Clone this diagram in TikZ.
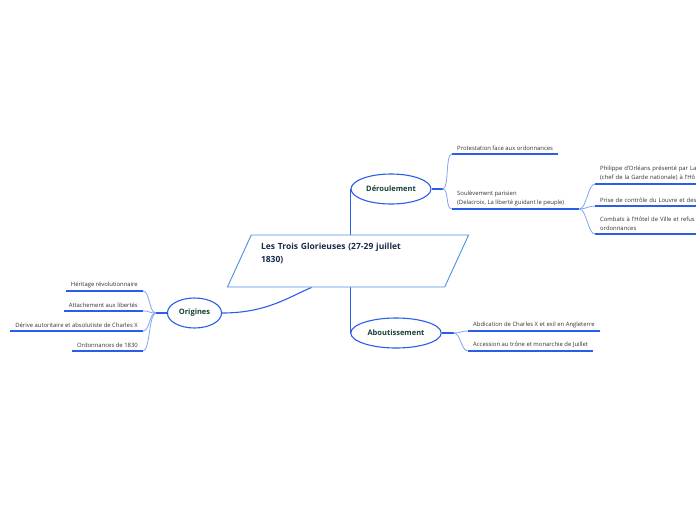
\documentclass[tikz,border=0pt]{standalone}
\usepackage{fontspec}
\setmainfont{Open Sans}
\usetikzlibrary{shapes.geometric,backgrounds}
\definecolor{trunkblue}{RGB}{43,94,232}
\definecolor{twigblue}{RGB}{128,163,243}
\definecolor{frameblue}{RGB}{74,144,226}
\definecolor{titlenavy}{RGB}{27,42,74}
\definecolor{topicgreen}{RGB}{22,64,52}
\definecolor{leafgray}{RGB}{51,51,51}

\begin{document}
\begin{tikzpicture}[x=1pt, y=1pt,
    central/.style={trapezium, trapezium left angle=62, trapezium right angle=118,
                    trapezium stretches=true, draw=frameblue, line width=0.9pt, fill=white,
                    minimum width=242pt, minimum height=52pt, text width=174pt, align=left,
                    font=\fontsize{8.5}{12.5}\selectfont\bfseries, text=titlenavy},
    topic/.style={ellipse, draw=trunkblue, line width=1.1pt, fill=white,
                  minimum height=30pt, inner xsep=3.5pt,
                  font=\fontsize{7.5}{9}\selectfont\bfseries, text=topicgreen},
    leaf/.style={inner xsep=5pt, inner ysep=3pt, align=left,
                 font=\fontsize{5.9}{9}\selectfont, text=leafgray},
    trunk/.style={trunkblue, line width=1.1pt},
    twig/.style={twigblue, line width=0.8pt},
    uline/.style={trunkblue, line width=1.6pt}
  ]
  \useasboundingbox (0,0) rectangle (696,-520);
  \clip (0,0) rectangle (696,-520);

  % centre and main topics
  \node[central] (lt) at (348,-261) {Les Trois Glorieuses (27-29 juillet\\1830)\\\strut};
  \node[topic] (der) at (391,-189) {Déroulement};
  \node[topic] (abo) at (396,-333) {Aboutissement};
  \node[topic] (ori) at (194.5,-313) {Origines};

  % Origines
  \node[leaf, anchor=south east] (her) at (143,-291) {Héritage révolutionnaire};
  \node[leaf, anchor=south east] (att) at (143,-311) {Attachement aux libertés};
  \node[leaf, anchor=south east] (dev) at (143,-331) {Dérive autoritaire et absolutiste de Charles X};
  \node[leaf, anchor=south east] (ord) at (143,-351) {Ordonnances de 1830};

  % Déroulement
  \node[leaf, anchor=south west] (prot) at (452,-154) {Protestation face aux ordonnances};
  \node[leaf, anchor=south west] (soul) at (452,-209) {Soulèvement parisien\\(Delacroix, La liberté guidant le peuple)};
  \node[leaf, anchor=south west, text width=110pt] (phil) at (595,-184)
       {Philippe d'Orléans présenté par La\\(chef de la Garde nationale) à l'Hô};
  \node[leaf, anchor=south west, text width=110pt] (prise) at (595,-206)
       {Prise de contrôle du Louvre et des};
  \node[leaf, anchor=south west, text width=110pt] (comb) at (595,-234)
       {Combats à l'Hôtel de Ville et refus\\ordonnances};

  % Aboutissement
  \node[leaf, anchor=south west] (abd) at (468,-331) {Abdication de Charles X et exil en Angleterre};
  \node[leaf, anchor=south west] (acc) at (468,-351) {Accession au trône et monarchie de Juillet};

  \foreach \n in {her,att,dev,ord,prot,soul,phil,prise,comb,abd,acc}
    \draw[uline] (\n.south west) -- (\n.south east);

  \begin{scope}[on background layer]
    \draw[trunk] (lt.center -| der.west) -- (der.west);
    \draw[trunk] (lt.center -| abo.west) -- (abo.west);
    \draw[trunk] (ori.east) .. controls +(45,0) and +(-22,-9) .. (lt.216);

    \draw[trunk] (ori.west) -- ++(-11,0) coordinate (orij);
    \foreach \n in {her,att,dev,ord}
      \draw[twig] (orij) .. controls +(-7,0) and +(7,0) .. (\n.south east);

    \draw[trunk] (der.east) -- ++(11,0) coordinate (derj);
    \foreach \n in {prot,soul}
      \draw[twig] (derj) .. controls +(7,0) and +(-7,0) .. (\n.south west);

    \draw[trunk] (soul.south east) -- ++(10,0) coordinate (soulj);
    \foreach \n in {phil,prise,comb}
      \draw[twig] (soulj) .. controls +(7,0) and +(-7,0) .. (\n.south west);

    \draw[trunk] (abo.east) -- ++(12,0) coordinate (aboj);
    \foreach \n in {abd,acc}
      \draw[twig] (aboj) .. controls +(7,0) and +(-7,0) .. (\n.south west);
  \end{scope}
\end{tikzpicture}
\end{document}
